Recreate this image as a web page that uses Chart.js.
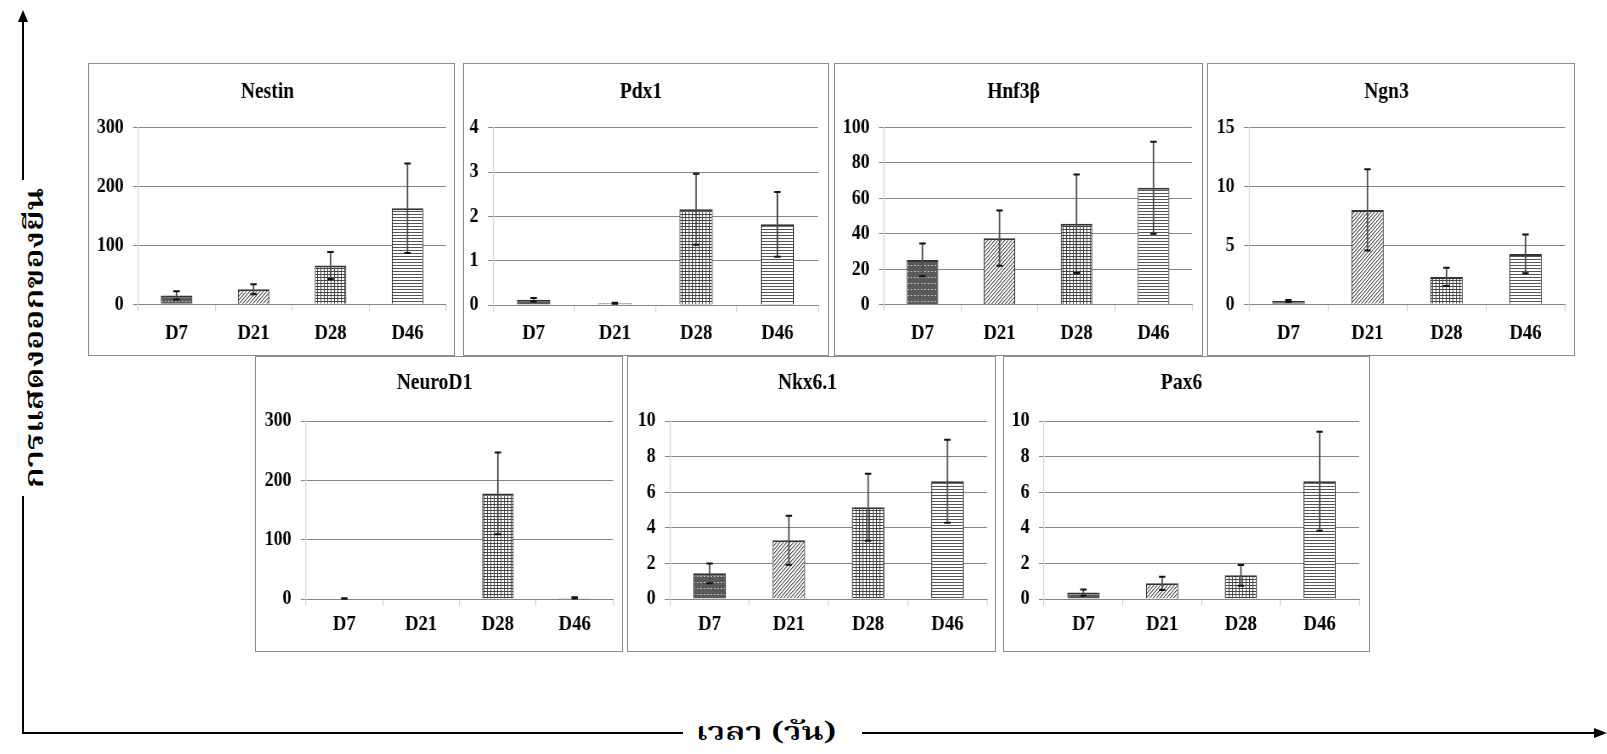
<!DOCTYPE html>
<html>
<head>
<meta charset="utf-8">
<script src="https://cdn.jsdelivr.net/npm/chart.js@4.4.1/dist/chart.umd.min.js"></script>
<style>
  html, body { margin: 0; padding: 0; background: #fff; }
  body { width: 1607px; height: 754px; position: relative; overflow: hidden; }
  .panel { position: absolute; border: 1px solid #8c8c8c; box-sizing: border-box; background: #fff; }
  .panel canvas { display: block; }
  .axis-title {
    position: absolute; white-space: nowrap; color: #000; font-weight: 600; line-height: 1;
    font-family: "Noto Serif Thai", "Norasi", "Kinnari", "Noto Sans Thai", "Loma", "Garuda", serif;
  }
  #frame { position: absolute; left: 0; top: 0; }
</style>
</head>
<body>
<svg id="frame" width="1607" height="754">
  <g stroke="#000" stroke-width="2">
    <line x1="23" y1="20" x2="23" y2="180" />
    <line x1="23" y1="496" x2="23" y2="734" />
    <line x1="22" y1="733" x2="683" y2="733" />
    <line x1="862" y1="733" x2="1596" y2="733" />
  </g>
  <polygon points="23,10 18,22 28,22" fill="#000" />
  <polygon points="1607,733 1594,728 1594,738" fill="#000" />
</svg>
<div class="axis-title" id="yTitle" style="left:36px; top:338px; font-size:26px; transform: translate(-50%, -50%) rotate(-90deg) scaleX(1.3);">การแสดงออกของยีน</div>
<div class="axis-title" id="xTitle" style="left:766px; top:733px; font-size:25px; transform: translate(-50%, -50%) scaleX(1.33);">เวลา (วัน)</div>

<script>
// sampling days and relative expression (mean, SD) per gene
const days = ['D7', 'D21', 'D28', 'D46'];

const nestinMean = [15, 25.5, 66, 163];
const nestinErr = [7, 8.5, 23, 76];
const nestinTicks = [0, 100, 200, 300];

const pdx1Mean = [0.12, 0.04, 2.16, 1.82];
const pdx1Err = [0.04, 0.01, 0.8, 0.73];
const pdx1Ticks = [0, 1, 2, 3, 4];

const hnf3bMean = [25.2, 37.5, 45.6, 66];
const hnf3bErr = [9.3, 15.6, 27.8, 26];
const hnf3bTicks = [0, 20, 40, 60, 80, 100];

const ngn3Mean = [0.28, 8.0, 2.32, 4.27];
const ngn3Err = [0.08, 3.45, 0.77, 1.64];
const ngn3Ticks = [0, 5, 10, 15];

const neurod1Mean = [0.8, 0, 178, 2];
const neurod1Err = [0.3, 0, 69, 1];
const neurod1Ticks = [0, 100, 200, 300];

const nkx61Mean = [1.44, 3.3, 5.15, 6.61];
const nkx61Err = [0.56, 1.38, 1.88, 2.33];
const nkx61Ticks = [0, 2, 4, 6, 8, 10];

const pax6Mean = [0.36, 0.88, 1.33, 6.61];
const pax6Err = [0.18, 0.37, 0.58, 2.78];
const pax6Ticks = [0, 2, 4, 6, 8, 10];

// page layout: box = panel frame, plot = axis area, titleY / labelY = text centres
const panels = [
  { title: 'Nestin', mean: nestinMean, err: nestinErr, ticks: nestinTicks,
    box: [88, 63, 455, 356], plot: [138, 127.7, 446, 304.3], titleY: 92, labelY: 333 },
  { title: 'Pdx1', mean: pdx1Mean, err: pdx1Err, ticks: pdx1Ticks,
    box: [463, 63, 829, 356], plot: [493, 127.7, 818, 305], titleY: 92, labelY: 333 },
  { title: 'Hnf3β', mean: hnf3bMean, err: hnf3bErr, ticks: hnf3bTicks,
    box: [834, 63, 1203, 356], plot: [884, 127.5, 1192, 304.5], titleY: 92, labelY: 333 },
  { title: 'Ngn3', mean: ngn3Mean, err: ngn3Err, ticks: ngn3Ticks,
    box: [1207, 63, 1575, 356], plot: [1249, 127.3, 1565, 304.3], titleY: 92, labelY: 333 },
  { title: 'NeuroD1', mean: neurod1Mean, err: neurod1Err, ticks: neurod1Ticks,
    box: [255, 356, 623, 652], plot: [306, 421, 613, 599], titleY: 383, labelY: 624 },
  { title: 'Nkx6.1', mean: nkx61Mean, err: nkx61Err, ticks: nkx61Ticks,
    box: [627, 356, 996, 652], plot: [670, 421, 987, 599], titleY: 383, labelY: 624 },
  { title: 'Pax6', mean: pax6Mean, err: pax6Err, ticks: pax6Ticks,
    box: [1003, 356, 1370, 652], plot: [1044, 421, 1359, 599], titleY: 383, labelY: 624 }
];

const serif = "'Liberation Serif', 'Times New Roman', serif";
// charts are drawn wider and squeezed back, giving the tall narrow Times look
const squeeze = 0.85;

function makePattern(w, h, draw) {
  const c = document.createElement('canvas');
  c.width = w;
  c.height = h;
  const g = c.getContext('2d');
  draw(g);
  return g.createPattern(c, 'repeat');
}

// one fill per day, like the black & white Excel pattern fills
const fills = [
  // dark with small light dots
  makePattern(4, 6, g => {
    g.fillStyle = '#5a5a5a'; g.fillRect(0, 0, 4, 6);
    g.fillStyle = '#bdbdbd'; g.fillRect(1, 3, 2, 1);
  }),
  // light upward diagonal
  makePattern(4, 4, g => {
    g.fillStyle = '#fff'; g.fillRect(0, 0, 4, 4);
    for (let y = 0; y < 4; y++) {
      g.fillStyle = '#555'; g.fillRect(3 - y, y, 1, 1);
      g.fillStyle = '#b0b0b0'; g.fillRect((4 - y) % 4, y, 1, 1);
    }
  }),
  // small grid
  makePattern(4, 3, g => {
    g.fillStyle = '#fff'; g.fillRect(0, 0, 4, 3);
    g.fillStyle = '#444'; g.fillRect(0, 0, 4, 1); g.fillRect(0, 0, 1, 3);
  }),
  // horizontal lines
  makePattern(1, 3, g => {
    g.fillStyle = '#fff'; g.fillRect(0, 0, 1, 3);
    g.fillStyle = '#555'; g.fillRect(0, 0, 1, 1);
  })
];

// standard deviation whiskers on top of each bar
const errorBars = {
  id: 'errorBars',
  afterDatasetsDraw(chart) {
    const ctx = chart.ctx;
    const yScale = chart.scales.y;
    const ds = chart.data.datasets[0];
    const meta = chart.getDatasetMeta(0);
    const cap = 3.2 / squeeze;
    ctx.save();
    meta.data.forEach((bar, i) => {
      const e = ds.errors[i];
      if (!e) return;
      const x = bar.x;
      const top = yScale.getPixelForValue(ds.data[i] + e);
      const bottom = yScale.getPixelForValue(Math.max(ds.data[i] - e, 0));
      ctx.strokeStyle = '#4a4a4a';
      ctx.lineWidth = 1.5 / squeeze;
      ctx.beginPath();
      ctx.moveTo(x, top);
      ctx.lineTo(x, bottom);
      ctx.stroke();
      ctx.strokeStyle = '#111';
      ctx.lineWidth = 2;
      ctx.beginPath();
      ctx.moveTo(x - cap, top); ctx.lineTo(x + cap, top);
      ctx.moveTo(x - cap, bottom); ctx.lineTo(x + cap, bottom);
      ctx.stroke();
    });
    ctx.restore();
  }
};

function renderPanel(p) {
  const [bx1, by1, bx2, by2] = p.box;
  const [px1, py1, px2, py2] = p.plot;
  const div = document.createElement('div');
  div.className = 'panel';
  div.style.left = bx1 + 'px';
  div.style.top = by1 + 'px';
  div.style.width = (bx2 - bx1) + 'px';
  div.style.height = (by2 - by1) + 'px';
  const canvas = document.createElement('canvas');
  const cw = bx2 - bx1 - 2;
  const ch = by2 - by1 - 2;
  canvas.width = Math.round(cw / squeeze);
  canvas.height = ch;
  canvas.style.width = cw + 'px';
  canvas.style.height = ch + 'px';
  div.appendChild(canvas);
  document.body.appendChild(div);

  const cLeft = bx1 + 1;
  const cTop = by1 + 1;
  const titleSize = 23;
  const titleLine = titleSize * 1.2;
  const titleTop = p.titleY - cTop - titleLine / 2;
  const titleBottom = py1 - cTop - titleTop - titleLine;
  const yWidth = (px1 - cLeft) / squeeze;
  const rightPad = (cLeft + cw - px2) / squeeze;
  const xHeight = cTop + ch - py2;
  const xTickLen = 7;
  const labelSize = 22;
  const xLabelPad = p.labelY - py2 - xTickLen - labelSize * 0.6;

  new Chart(canvas.getContext('2d'), {
    type: 'bar',
    data: {
      labels: days,
      datasets: [{
        data: p.mean,
        errors: p.err,
        backgroundColor: fills,
        borderColor: '#333',
        borderWidth: { top: 2, left: 1.2, right: 1.2, bottom: 0 },
        barPercentage: 0.41,
        categoryPercentage: 1.0
      }]
    },
    options: {
      responsive: false,
      animation: false,
      events: [],
      layout: { padding: { left: 0, top: 0, right: rightPad, bottom: 0 } },
      plugins: {
        legend: { display: false },
        tooltip: { enabled: false },
        title: {
          display: true,
          text: p.title,
          color: '#000',
          font: { family: serif, size: titleSize, weight: 'bold', lineHeight: 1.2 },
          padding: { top: titleTop, bottom: titleBottom }
        }
      },
      scales: {
        x: {
          grid: { display: true, drawOnChartArea: false, drawTicks: true, tickLength: xTickLen, lineWidth: 1.2, color: '#d0d0d0', offset: true },
          border: { display: true, color: '#868686', width: 1 },
          ticks: {
            color: '#000',
            padding: xLabelPad,
            font: { family: serif, size: labelSize, weight: 'bold', lineHeight: 1.2 }
          },
          afterFit: s => { s.height = xHeight; }
        },
        y: {
          min: p.ticks[0],
          max: p.ticks[p.ticks.length - 1],
          grid: { color: '#868686', lineWidth: 1, drawTicks: true, tickLength: 6 },
          border: { display: true, color: '#d6d6d6', width: 1.2 },
          ticks: {
            stepSize: p.ticks[1] - p.ticks[0],
            color: '#000',
            padding: 11,
            font: { family: serif, size: 21, weight: 'bold' }
          },
          afterFit: s => { s.width = yWidth; }
        }
      }
    },
    plugins: [errorBars]
  });
}

panels.forEach(renderPanel);
</script>
</body>
</html>
